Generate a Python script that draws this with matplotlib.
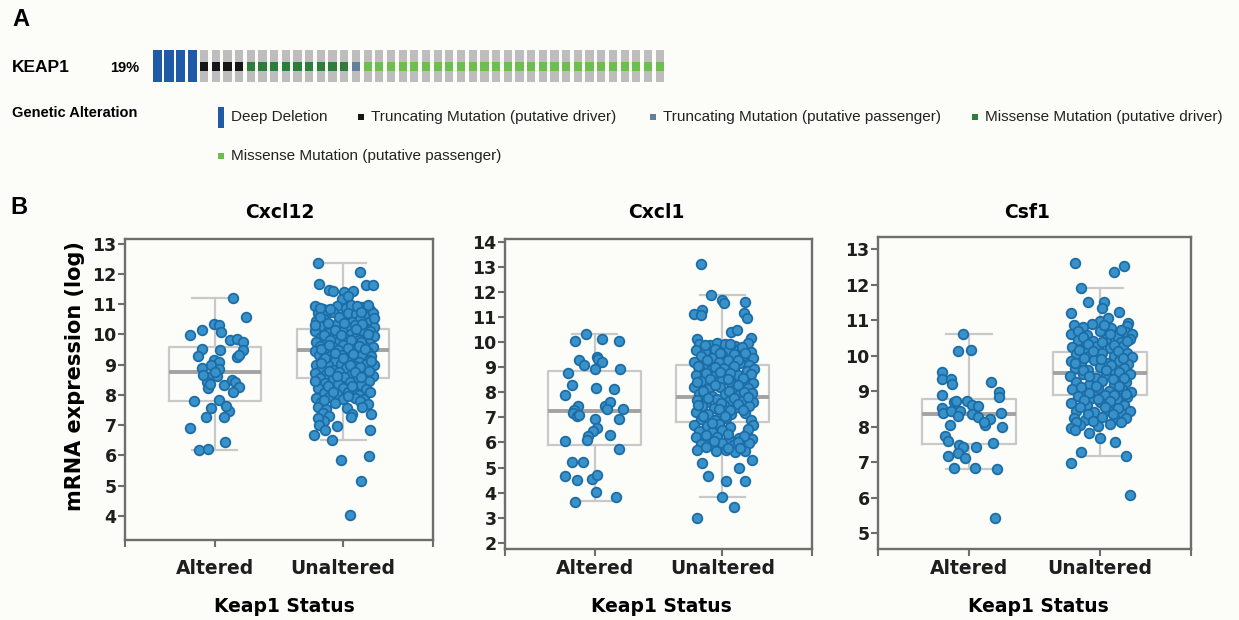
import numpy as np
import matplotlib
matplotlib.use("Agg")
import matplotlib.pyplot as plt
from matplotlib.patches import Rectangle

plt.rcParams['font.family'] = ['DejaVu Sans']

# =====================================================================
# Panel A data: KEAP1 alterations (oncoprint track)
# =====================================================================
alteration_types = ['Deep Deletion',
                    'Truncating Mutation (putative driver)',
                    'Truncating Mutation (putative passenger)',
                    'Missense Mutation (putative driver)',
                    'Missense Mutation (putative passenger)']
alteration_colors = ['#1f5aa6', '#161616', '#62809a', '#2f7d3b', '#6cbf4c']
# samples in the order they appear on the track (type index, count)
track_order = [0, 1, 3, 2, 4]
track_counts = [4, 4, 9, 1, 26]
altered_pct = '19%'

# =====================================================================
# Panel B data: mRNA expression (log), jitter offset + value per sample
# =====================================================================
genes = ['Cxcl12', 'Cxcl1', 'Csf1']
groups = ['Altered', 'Unaltered']

cxcl12_altered = [
    (0.14, 11.20), (0.24, 10.58), (-0.01, 10.33), (0.03, 10.30), (-0.10, 10.15),
    (-0.19, 9.98), (0.05, 10.07), (0.12, 9.82), (0.17, 9.86), (0.22, 9.74),
    (-0.10, 9.53), (0.04, 9.49), (0.22, 9.47), (-0.13, 9.27), (0.17, 9.25),
    (0.19, 9.31), (-0.01, 9.16), (0.03, 9.09), (-0.10, 8.90), (-0.03, 8.97),
    (0.03, 8.84), (-0.04, 8.60), (0.02, 8.62), (-0.06, 8.42), (0.07, 8.31),
    (0.13, 8.48), (0.16, 8.42), (0.19, 8.26), (0.14, 8.10), (-0.05, 8.24),
    (-0.16, 7.80), (0.03, 7.82), (-0.03, 7.55), (0.11, 7.48), (-0.07, 7.27),
    (0.07, 7.28), (-0.19, 6.90), (0.08, 6.45), (-0.12, 6.19), (-0.05, 6.20),
    (-0.09, 8.65), (0.00, 8.75), (0.09, 7.62), (-0.04, 8.36)]
cxcl12_unaltered = [
    (-0.20, 12.35), (0.13, 12.07), (-0.19, 11.65), (0.18, 11.63), (0.23, 11.63),
    (-0.11, 11.48), (-0.08, 11.42), (0.01, 11.40), (0.08, 11.43), (-0.01, 11.18),
    (0.04, 11.25),
    (-0.22, 10.95), (-0.16, 10.82), (-0.05, 10.92), (0.02, 10.88), (0.06, 10.97),
    (0.15, 10.90), (0.21, 10.80), (-0.20, 10.70), (-0.13, 10.66), (-0.08, 10.74),
    (0.00, 10.62), (0.04, 10.72), (0.10, 10.68), (0.17, 10.60), (0.23, 10.72),
    (-0.21, 10.45), (-0.15, 10.52), (-0.02, 10.48), (0.07, 10.40), (0.13, 10.50),
    (0.20, 10.42), (-0.18, 10.28), (-0.10, 10.22), (-0.05, 10.33), (0.03, 10.25),
    (0.09, 10.30), (0.17, 10.20), (0.24, 10.25), (-0.22, 10.10), (-0.12, 10.05),
    (-0.01, 10.12), (0.06, 10.02), (0.14, 10.08), (0.21, 10.12), (-0.17, 9.90),
    (-0.07, 9.95), (0.02, 9.86), (0.10, 9.92), (0.18, 9.88), (0.24, 9.95),
    (-0.21, 9.75), (-0.13, 9.70), (-0.03, 9.78), (0.05, 9.72), (0.12, 9.80),
    (0.20, 9.70), (-0.18, 9.60), (-0.08, 9.58), (0.00, 9.64), (0.08, 9.55),
    (0.16, 9.62), (0.23, 9.57), (-0.22, 9.45), (-0.14, 9.42), (-0.04, 9.48),
    (0.03, 9.40), (0.11, 9.46), (0.19, 9.42), (-0.19, 9.30), (-0.10, 9.27),
    (-0.01, 9.33), (0.07, 9.25), (0.15, 9.32), (0.22, 9.28), (-0.16, 9.15),
    (-0.06, 9.12), (0.04, 9.18), (0.12, 9.10), (0.20, 9.16), (-0.21, 9.00),
    (-0.12, 8.97), (-0.02, 9.03), (0.09, 8.96), (0.18, 9.02), (0.24, 8.98),
    (-0.17, 8.86), (-0.08, 8.82), (0.02, 8.88), (0.14, 8.84), (-0.22, 8.72),
    (-0.13, 8.68), (-0.03, 8.74), (0.06, 8.66), (0.17, 8.70), (0.23, 8.62),
    (-0.18, 8.55), (-0.08, 8.52), (0.01, 8.58), (0.10, 8.50), (0.20, 8.45),
    (-0.14, 8.40), (-0.04, 8.35), (0.05, 8.42), (0.14, 8.32), (-0.20, 8.22),
    (-0.10, 8.18), (0.00, 8.24), (0.08, 8.15), (0.18, 8.20), (-0.15, 8.05),
    (-0.05, 8.02), (0.04, 8.08), (0.12, 8.00), (-0.21, 7.88), (-0.11, 7.92),
    (0.00, 7.86), (0.09, 7.90), (0.16, 7.85), (-0.17, 7.75), (-0.06, 7.72),
    (0.13, 7.78), (0.19, 7.70), (-0.20, 7.58), (-0.13, 7.52), (0.03, 7.55),
    (0.15, 7.60), (-0.16, 7.40), (-0.11, 7.30), (-0.15, 7.15), (-0.20, 7.22),
    (-0.18, 10.88), (-0.10, 10.85), (0.11, 10.95), (0.19, 10.98), (-0.03, 10.58),
    (0.14, 10.75), (-0.18, 10.56), (0.24, 10.55), (-0.12, 10.38), (0.01, 10.38),
    (0.15, 10.35), (-0.22, 10.30), (-0.06, 10.15), (0.10, 10.16), (0.19, 10.02),
    (-0.15, 9.98), (-0.02, 9.98), (0.06, 9.82), (0.14, 9.75), (-0.10, 9.82),
    (-0.17, 9.52), (-0.11, 9.65), (0.04, 9.56), (0.12, 9.62), (-0.06, 9.38),
    (0.08, 9.35), (0.17, 9.52), (-0.14, 9.20), (0.00, 9.22), (0.22, 9.12),
    (-0.17, 9.05), (0.05, 9.00), (0.13, 8.93), (-0.11, 8.78), (0.09, 8.76),
    (0.20, 8.80), (-0.05, 8.62), (0.14, 8.58), (-0.22, 8.45), (0.07, 8.30),
    (-0.12, 8.30), (0.21, 8.10), (-0.08, 8.08), (0.04, 7.95), (-0.15, 7.82),
    (-0.23, 6.67), (-0.19, 7.00), (-0.14, 6.83), (-0.05, 6.97), (-0.09, 6.50),
    (0.21, 6.85), (0.22, 7.38), (0.07, 7.38), (0.06, 7.28), (-0.02, 5.84),
    (0.20, 5.97), (0.14, 5.15), (0.05, 4.02)]

cxcl1_altered = [
    (-0.07, 10.33), (-0.15, 10.06), (0.06, 10.12), (0.19, 10.06), (-0.12, 9.30),
    (-0.08, 9.10), (0.02, 9.43), (0.03, 9.33), (0.06, 9.21), (0.00, 8.93),
    (0.20, 8.94), (-0.21, 8.79), (-0.18, 8.30), (-0.23, 7.90), (0.01, 8.17),
    (0.15, 8.15), (-0.13, 7.44), (-0.16, 7.31), (-0.17, 7.18), (-0.14, 7.07),
    (-0.12, 7.11), (0.08, 7.44), (0.12, 7.60), (0.10, 7.34), (0.22, 7.34),
    (0.19, 6.94), (0.00, 6.92), (0.02, 6.58), (-0.01, 6.45), (-0.05, 6.27),
    (-0.06, 6.11), (0.12, 6.31), (-0.23, 6.07), (0.19, 5.74), (-0.18, 5.21),
    (-0.09, 5.21), (-0.23, 4.65), (-0.14, 4.49), (-0.02, 4.54), (0.02, 4.71),
    (0.01, 4.01), (0.17, 3.82), (-0.15, 3.63)]
cxcl1_unaltered = [
    (-0.17, 13.12), (-0.09, 11.90), (0.00, 11.69), (0.01, 11.58), (0.18, 11.62),
    (-0.22, 11.12), (-0.16, 11.29), (-0.17, 11.09), (0.17, 11.15), (0.19, 10.98),
    (0.07, 10.39), (0.11, 10.47), (0.22, 10.16), (-0.20, 10.12),
    (-0.18, 9.95), (-0.10, 9.88), (-0.04, 9.98), (0.02, 9.92), (0.10, 9.85),
    (0.20, 9.97), (-0.21, 9.70), (-0.14, 9.62), (-0.06, 9.72), (0.04, 9.65),
    (0.13, 9.74), (0.22, 9.60), (-0.17, 9.45), (-0.08, 9.38), (0.00, 9.48),
    (0.08, 9.40), (0.16, 9.46), (0.24, 9.36), (-0.22, 9.20), (-0.12, 9.15),
    (-0.03, 9.22), (0.05, 9.12), (0.14, 9.18), (0.21, 9.10), (-0.18, 8.95),
    (-0.09, 8.88), (0.01, 8.97), (0.09, 8.90), (0.19, 8.86), (0.25, 8.95),
    (-0.21, 8.70), (-0.14, 8.64), (-0.05, 8.72), (0.03, 8.62), (0.12, 8.68),
    (0.22, 8.74), (-0.17, 8.45), (-0.07, 8.40), (0.00, 8.48), (0.07, 8.36),
    (0.17, 8.44), (0.24, 8.38), (-0.22, 8.20), (-0.11, 8.15), (-0.02, 8.22),
    (0.10, 8.12), (0.20, 8.18), (-0.18, 7.92), (-0.08, 7.86), (0.02, 7.95),
    (0.13, 7.88), (0.23, 7.96), (-0.20, 7.70), (-0.13, 7.62), (-0.04, 7.72),
    (0.05, 7.64), (0.16, 7.70), (0.24, 7.60), (-0.16, 7.45), (-0.07, 7.38),
    (0.01, 7.48), (0.11, 7.40), (0.21, 7.46), (-0.21, 7.20), (-0.11, 7.14),
    (-0.02, 7.22), (0.07, 7.12), (0.18, 7.18), (-0.17, 6.95), (-0.06, 6.90),
    (0.03, 6.97), (0.22, 6.88), (-0.22, 6.70), (-0.12, 6.65), (-0.03, 6.72),
    (0.06, 6.62), (0.24, 6.68), (-0.18, 6.45), (-0.08, 6.40), (0.00, 6.48),
    (0.19, 6.38), (-0.21, 6.20), (-0.14, 6.15), (-0.04, 6.22), (0.05, 6.12),
    (0.13, 6.18), (0.23, 6.14), (-0.17, 5.95), (-0.09, 5.90), (0.00, 5.97),
    (0.08, 5.88), (0.16, 5.93), (0.21, 5.98), (-0.20, 5.72), (-0.05, 5.65),
    (0.03, 5.70), (0.10, 5.62), (0.18, 5.68),
    (-0.14, 9.90), (0.06, 9.95), (0.15, 9.82), (-0.02, 9.58), (0.09, 9.55),
    (0.18, 9.58), (-0.12, 9.30), (0.04, 9.30), (0.12, 9.28), (-0.19, 9.05),
    (-0.06, 9.02), (0.09, 9.05), (-0.13, 8.78), (-0.02, 8.82), (0.06, 8.78),
    (0.16, 8.56), (-0.10, 8.55), (0.04, 8.55), (-0.20, 8.42), (0.12, 8.30),
    (-0.06, 8.28), (-0.15, 8.05), (0.05, 8.05), (0.17, 8.02), (-0.11, 7.78),
    (0.09, 7.78), (0.20, 7.82), (-0.01, 7.58), (0.12, 7.55), (-0.19, 7.48),
    (-0.03, 7.32), (0.06, 7.28), (0.16, 7.30), (-0.15, 7.05), (0.02, 7.05),
    (-0.08, 6.78), (0.20, 6.52), (-0.13, 6.30), (0.04, 6.32), (0.17, 6.25),
    (-0.07, 6.05), (0.12, 6.02), (-0.13, 5.82), (0.04, 5.80), (0.14, 5.78),
    (-0.16, 5.18), (-0.11, 4.65), (0.13, 4.98), (0.23, 5.29), (0.03, 4.45),
    (0.18, 4.45), (0.00, 3.83), (0.09, 3.43), (-0.20, 2.99)]

csf1_altered = [
    (-0.05, 10.61), (-0.09, 10.13), (0.01, 10.16), (-0.21, 9.53), (-0.21, 9.34),
    (-0.14, 9.34), (-0.13, 9.19), (0.17, 9.26), (0.23, 8.97), (0.23, 8.84),
    (-0.21, 8.90), (-0.12, 8.70), (-0.10, 8.72), (-0.02, 8.72), (0.02, 8.62),
    (0.07, 8.58), (-0.21, 8.52), (-0.20, 8.38), (-0.14, 8.45), (-0.07, 8.45),
    (-0.09, 8.30), (0.02, 8.35), (0.07, 8.26), (0.12, 8.05), (0.16, 8.22),
    (0.24, 8.38), (0.25, 7.98), (-0.15, 8.05), (0.11, 8.12), (-0.19, 7.72),
    (-0.16, 7.60), (-0.08, 7.48), (-0.05, 7.42), (-0.09, 7.25), (-0.16, 7.18),
    (-0.03, 7.10), (0.05, 7.42), (0.18, 7.55), (-0.12, 6.84), (0.04, 6.84),
    (0.21, 6.80), (0.20, 5.42)]
csf1_unaltered = [
    (-0.19, 12.62), (0.11, 12.35), (0.19, 12.53), (-0.14, 11.91), (-0.09, 11.50),
    (0.03, 11.52), (0.02, 11.35), (-0.22, 11.19), (0.15, 11.24), (0.00, 10.97),
    (0.06, 11.05), (0.22, 10.93),
    (-0.20, 10.85), (-0.13, 10.80), (-0.06, 10.88), (0.09, 10.78), (0.21, 10.84),
    (-0.22, 10.62), (-0.10, 10.58), (0.00, 10.68), (0.13, 10.55), (0.20, 10.65),
    (0.25, 10.60), (-0.17, 10.45), (-0.05, 10.40), (0.05, 10.48), (0.16, 10.38),
    (0.23, 10.46), (-0.21, 10.25), (-0.12, 10.18), (-0.02, 10.28), (0.08, 10.20),
    (0.18, 10.26), (-0.18, 10.05), (-0.08, 9.98), (0.02, 10.08), (0.11, 10.00),
    (0.21, 10.06), (0.25, 9.96), (-0.22, 9.85), (-0.14, 9.80), (-0.04, 9.88),
    (0.06, 9.78), (0.15, 9.86), (0.22, 9.76), (-0.19, 9.65), (-0.09, 9.58),
    (0.00, 9.68), (0.10, 9.60), (0.19, 9.66), (-0.23, 9.42), (-0.13, 9.48),
    (-0.03, 9.38), (0.05, 9.46), (0.14, 9.40), (0.23, 9.48), (-0.18, 9.25),
    (-0.08, 9.18), (0.02, 9.28), (0.11, 9.20), (0.20, 9.26), (-0.21, 9.05),
    (-0.12, 8.98), (-0.01, 9.08), (0.07, 9.00), (0.17, 9.06), (0.24, 8.97),
    (-0.17, 8.85), (-0.06, 8.80), (0.04, 8.88), (0.13, 8.78), (0.21, 8.84),
    (-0.22, 8.65), (-0.10, 8.60), (0.00, 8.68), (0.09, 8.58), (0.19, 8.62),
    (-0.18, 8.45), (-0.04, 8.40), (0.06, 8.48), (0.16, 8.38), (0.23, 8.44),
    (-0.20, 8.25), (-0.11, 8.18), (0.02, 8.28), (0.12, 8.20), (0.20, 8.24),
    (-0.15, 8.05), (-0.01, 8.02), (0.08, 8.08),
    (-0.17, 10.70), (0.03, 10.85), (0.16, 10.72), (-0.13, 10.52), (0.08, 10.60),
    (-0.09, 10.32), (0.02, 10.38), (0.11, 10.30), (0.21, 10.42), (-0.16, 10.15),
    (-0.05, 10.12), (0.14, 10.12), (-0.12, 9.92), (0.01, 9.90), (0.18, 9.92),
    (-0.19, 9.78), (0.09, 9.72), (-0.13, 9.60), (0.05, 9.60), (0.15, 9.55),
    (-0.08, 9.42), (0.10, 9.35), (0.19, 9.38), (-0.14, 9.12), (-0.03, 9.15),
    (0.15, 9.15), (-0.08, 8.95), (0.11, 8.90), (0.20, 8.92), (-0.12, 8.75),
    (-0.01, 8.78), (0.08, 8.72), (-0.15, 8.55), (0.04, 8.55), (0.14, 8.52),
    (-0.09, 8.35), (0.10, 8.35), (-0.05, 8.15), (0.16, 8.12), (-0.18, 8.12),
    (-0.22, 6.98), (-0.14, 7.29), (0.20, 7.17), (0.23, 6.07), (0.00, 7.67),
    (0.12, 7.57), (-0.08, 7.83), (-0.22, 7.97), (-0.19, 7.90)]

# box statistics: [Altered, Unaltered]
cxcl12_q1 = [7.81, 8.55]
cxcl12_med = [8.75, 9.47]
cxcl12_q3 = [9.59, 10.19]
cxcl12_lo = [6.19, 6.50]
cxcl12_hi = [11.20, 12.35]

cxcl1_q1 = [5.88, 6.82]
cxcl1_med = [7.25, 7.82]
cxcl1_q3 = [8.85, 9.08]
cxcl1_lo = [3.65, 3.82]
cxcl1_hi = [10.32, 11.90]

csf1_q1 = [7.52, 8.88]
csf1_med = [8.36, 9.50]
csf1_q3 = [8.78, 10.10]
csf1_lo = [6.80, 7.18]
csf1_hi = [10.60, 11.90]

# =====================================================================
# Figure
# =====================================================================
W, H = 1239, 620
bg = '#fcfcf8'
fig = plt.figure(figsize=(W / 100, H / 100), dpi=100, facecolor=bg)


def px_axes(left, top, right, bottom):
    return fig.add_axes([left / W, 1 - bottom / H, (right - left) / W, (bottom - top) / H])


# overlay for panel letters and the panel A legend
ax_txt = fig.add_axes([0, 0, 1, 1])
ax_txt.set_xlim(0, W)
ax_txt.set_ylim(H, 0)
ax_txt.axis('off')

arial = ['Liberation Sans', 'DejaVu Sans']
ax_txt.text(12, 20, 'A', fontsize=17, fontweight='bold', family=arial, va='center')
ax_txt.text(10, 208, 'B', fontsize=17, fontweight='bold', family=arial, va='center')
ax_txt.text(12, 68, 'KEAP1', fontsize=12.5, fontweight='bold', family=arial, va='center')
ax_txt.text(110, 68, altered_pct, fontsize=10.5, fontweight='bold', family=arial, va='center')
ax_txt.text(12, 113, 'Genetic Alteration', fontsize=10.5, fontweight='bold', family=arial, va='center')

# legend swatches + labels
legend_pos = [(218, 117), (358, 117), (650, 117), (972, 117), (218, 156)]
for k, (lx, ly) in enumerate(legend_pos):
    if k == 0:
        ax_txt.add_patch(Rectangle((lx, ly - 10), 6, 21, color=alteration_colors[k], lw=0))
    else:
        ax_txt.add_patch(Rectangle((lx, ly - 3), 6, 6, color=alteration_colors[k], lw=0))
    ax_txt.text(lx + 13, ly, alteration_types[k], fontsize=11, family=arial, va='center',
                color='#222222')

# oncoprint track
ax_onc = px_axes(151.5, 50, 665.5, 82)
n_samples = sum(track_counts)
sample_type = np.repeat(track_order, track_counts)
idx = np.arange(n_samples)
deep = sample_type == 0
ax_onc.bar(idx[~deep], 1, width=0.7, color='#bdbdbd', lw=0)
ax_onc.bar(idx[deep], 1, width=0.8, color=alteration_colors[0], lw=0)
for t in range(1, len(alteration_types)):
    sel = sample_type == t
    ax_onc.bar(idx[sel], 0.3, bottom=0.33, width=0.7, color=alteration_colors[t], lw=0)
ax_onc.set_xlim(-0.5, n_samples - 0.5)
ax_onc.set_ylim(0, 1)
ax_onc.axis('off')

# =====================================================================
# Panel B: box + strip plots
# =====================================================================
panel_px = [(125, 239, 433, 540), (505, 239, 812, 549), (878, 237, 1191, 549)]
title_px = [280, 656, 1027]
xlabel_px = [284, 661, 1038]
ylims = [(3.2, 13.15), (1.75, 14.12), (4.55, 13.34)]
yticks = [range(4, 14), range(2, 15), range(5, 14)]
xpads = [8.5, 2.5, 2.5]
points = [(cxcl12_altered, cxcl12_unaltered), (cxcl1_altered, cxcl1_unaltered),
          (csf1_altered, csf1_unaltered)]
box_q1 = [cxcl12_q1, cxcl1_q1, csf1_q1]
box_med = [cxcl12_med, cxcl1_med, csf1_med]
box_q3 = [cxcl12_q3, cxcl1_q3, csf1_q3]
box_lo = [cxcl12_lo, cxcl1_lo, csf1_lo]
box_hi = [cxcl12_hi, cxcl1_hi, csf1_hi]

spine_col = '#6e6e6e'
box_col = '#c9c9c9'
dot_face = '#3892c9'
dot_edge = '#1c6da6'

for i, gene in enumerate(genes):
    left, top, right, bottom = panel_px[i]
    ax = px_axes(left, top, right, bottom)
    ax.set_facecolor(bg)

    stats = [dict(med=box_med[i][j], q1=box_q1[i][j], q3=box_q3[i][j],
                  whislo=box_lo[i][j], whishi=box_hi[i][j], fliers=[])
             for j in range(2)]
    ax.bxp(stats, positions=[0, 1], widths=0.72, capwidths=0.35, showfliers=False,
           manage_ticks=False,
           boxprops=dict(color=box_col, lw=1.6),
           whiskerprops=dict(color=box_col, lw=1.6),
           capprops=dict(color=box_col, lw=1.6),
           medianprops=dict(color='#a3a3a3', lw=2.8))

    for j in range(2):
        arr = np.array(points[i][j])
        ax.scatter(j + arr[:, 0], arr[:, 1], s=48, facecolor=dot_face,
                   edgecolor=dot_edge, linewidth=1.3, zorder=3)

    ax.set_xlim(-0.7, 1.7)
    ax.set_ylim(*ylims[i])
    ax.set_xticks([0, 1])
    ax.set_xticklabels(groups)
    ax.set_xticks([-0.7, 1.7], minor=True)
    ax.set_yticks(list(yticks[i]))
    for s in ax.spines.values():
        s.set_color(spine_col)
        s.set_linewidth(1.7)
    ax.tick_params(axis='both', which='both', length=5, width=1.5, color=spine_col,
                   labelcolor='#1e1e1e')
    ax.tick_params(axis='y', pad=1, labelsize=12.5)
    ax.tick_params(axis='x', pad=xpads[i], labelsize=13.5)
    for lab in ax.get_xticklabels() + ax.get_yticklabels():
        lab.set_fontweight('bold')

    ax.set_title(gene, fontsize=13.5, fontweight='bold', x=(title_px[i] - left) / (right - left),
                 y=(bottom - 212) / (bottom - top), va='center', pad=0)
    ax.set_xlabel('Keap1 Status', fontsize=13.5, fontweight='bold', va='center')
    ax.xaxis.set_label_coords((xlabel_px[i] - left) / (right - left),
                              (bottom - 606) / (bottom - top))
    if i == 0:
        ax.set_ylabel('mRNA expression (log)', fontsize=15, fontweight='bold', va='center')
        ax.yaxis.set_label_coords((75 - left) / (right - left), (bottom - 376) / (bottom - top))

fig.savefig('out.png', dpi=100, facecolor=bg)
